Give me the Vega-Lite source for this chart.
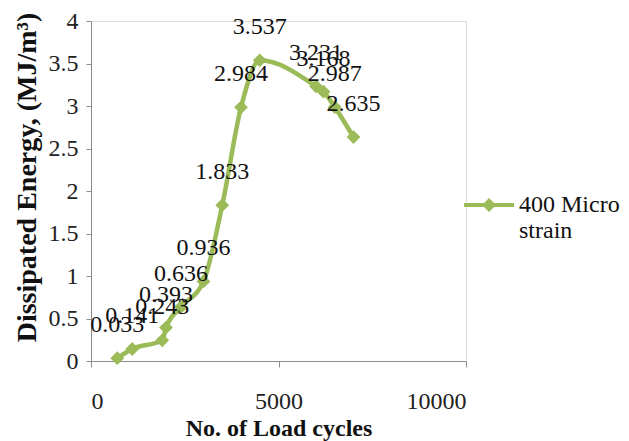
{
  "$schema": "https://vega.github.io/schema/vega-lite/v6.json",
  "autosize": "none",
  "width": 375,
  "height": 340,
  "padding": {"left": 91, "top": 21, "right": 163, "bottom": 80},
  "background": "white",
  "data": {
    "values": [
      {"cycles": 700, "energy": 0.033, "series": "400 Micro strain"},
      {"cycles": 1100, "energy": 0.141, "series": "400 Micro strain"},
      {"cycles": 1900, "energy": 0.243, "series": "400 Micro strain"},
      {"cycles": 2000, "energy": 0.393, "series": "400 Micro strain"},
      {"cycles": 2400, "energy": 0.636, "series": "400 Micro strain"},
      {"cycles": 3000, "energy": 0.936, "series": "400 Micro strain"},
      {"cycles": 3500, "energy": 1.833, "series": "400 Micro strain"},
      {"cycles": 4000, "energy": 2.984, "series": "400 Micro strain"},
      {"cycles": 4500, "energy": 3.537, "series": "400 Micro strain"},
      {"cycles": 6000, "energy": 3.231, "series": "400 Micro strain"},
      {"cycles": 6200, "energy": 3.168, "series": "400 Micro strain"},
      {"cycles": 6500, "energy": 2.987, "series": "400 Micro strain"},
      {"cycles": 7000, "energy": 2.635, "series": "400 Micro strain"}
    ]
  },
  "encoding": {
    "x": {
      "field": "cycles", "type": "quantitative",
      "scale": {"domain": [0, 10000], "nice": false, "zero": true},
      "axis": {
        "title": "No. of Load cycles",
        "values": [0, 5000, 10000], "format": "d",
        "grid": false, "tickSize": 6, "labelPadding": 22,
        "domainColor": "#8c8c8c", "tickColor": "#8c8c8c",
        "labelFont": "Liberation Serif", "labelFontSize": 24, "labelColor": "#222222",
        "titleFont": "Liberation Serif", "titleFontSize": 24, "titleFontWeight": "bold", "titleColor": "#111111",
        "titleBaseline": "middle", "titleY": 67, "titleX": 187.5
      }
    },
    "y": {
      "field": "energy", "type": "quantitative",
      "scale": {"domain": [0, 4], "nice": false},
      "axis": {
        "title": "Dissipated Energy, (MJ/m³)",
        "values": [0, 0.5, 1, 1.5, 2, 2.5, 3, 3.5, 4], "format": "~g",
        "grid": false, "tickSize": 5, "labelPadding": 8,
        "domainColor": "#8c8c8c", "tickColor": "#8c8c8c",
        "labelFont": "Liberation Serif", "labelFontSize": 24, "labelColor": "#222222",
        "titleFont": "Liberation Serif", "titleFontSize": 28, "titleFontWeight": "bold", "titleColor": "#111111",
        "titleAngle": 270, "titleAlign": "center", "titleBaseline": "middle",
        "titleX": -64, "titleY": 156
      }
    }
  },
  "layer": [
    {
      "mark": {"type": "line", "interpolate": "monotone", "strokeWidth": 4.5},
      "encoding": {
        "color": {
          "field": "series", "type": "nominal",
          "scale": {"range": ["#9bbb59"]},
          "legend": {
            "title": null, "orient": "none", "legendX": 386, "legendY": 172,
            "symbolType": "M-2.5,-0.2H2.5V0.2H-2.5Z M-0.7,0L0,-0.7L0.7,0L0,0.7Z",
            "symbolSize": 400, "symbolFillColor": "#9bbb59", "symbolStrokeColor": "#9bbb59", "symbolStrokeWidth": 0,
            "labelOffset": 18, "labelFont": "Liberation Serif", "labelFontSize": 24, "labelColor": "#111111",
            "labelExpr": "['400 Micro', 'strain']", "labelLimit": 300, "padding": 0
          }
        }
      }
    },
    {
      "mark": {"type": "point", "shape": "diamond", "filled": true, "size": 190, "opacity": 1, "color": "#9bbb59"}
    },
    {
      "mark": {"type": "text", "font": "Liberation Serif", "fontSize": 24, "color": "#111111", "align": "center", "baseline": "alphabetic", "dy": -26},
      "encoding": {"text": {"field": "energy", "type": "quantitative", "format": ".3f"}}
    }
  ]
}
